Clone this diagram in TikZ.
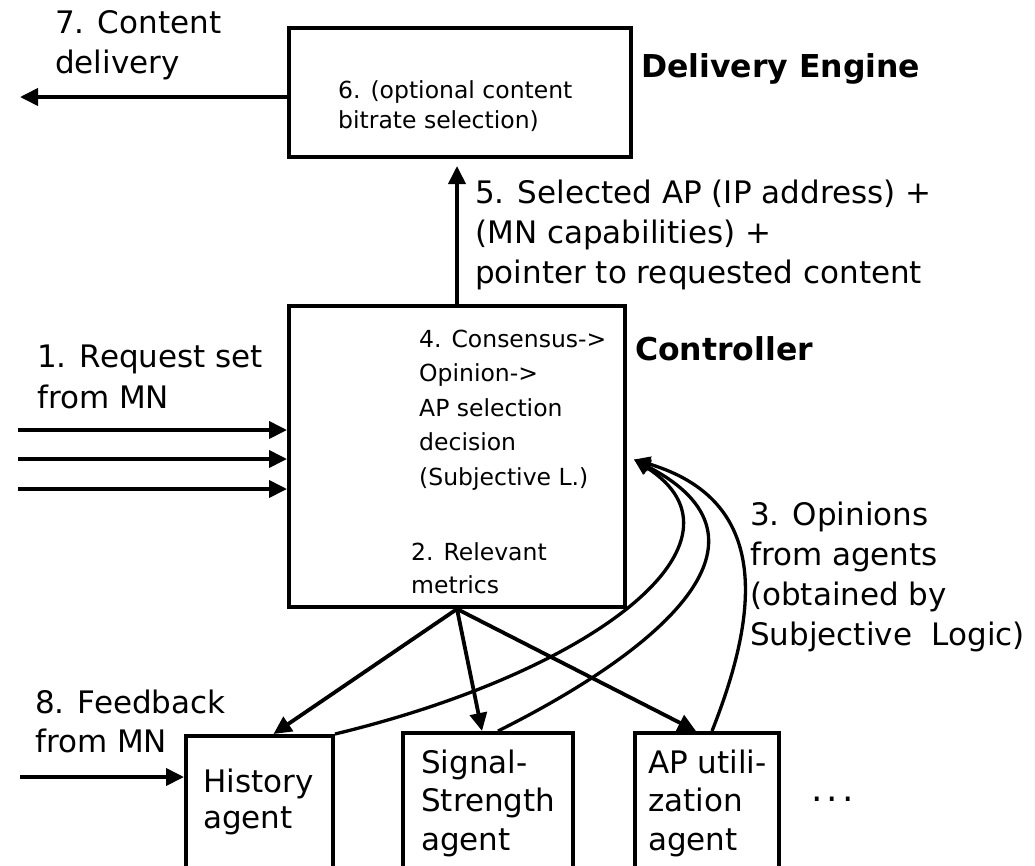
\documentclass[tikz,border=0pt]{standalone}
\usepackage{fontspec}
\setmainfont{DejaVu Sans}
\usetikzlibrary{arrows.meta}
\newcommand\fls{\rule{0pt}{0.8em}}
\begin{document}
\begin{tikzpicture}[x=1pt,y=-1pt,
  box/.style={draw, line width=4pt, inner sep=0pt, rectangle},
  arr/.style={line width=3.8pt, -{Triangle[length=18pt,width=17pt]}},
  carr/.style={line width=3.3pt, -{Triangle[length=16pt,width=15pt]}},
  big/.style={font=\fontsize{31}{40}\selectfont, align=left, inner sep=0pt, anchor=north west},
  small/.style={font=\fontsize{23.5}{34.5}\selectfont, align=left, inner sep=0pt, anchor=north west},
  boldlab/.style={font=\fontsize{31.5}{40}\selectfont\bfseries, inner sep=0pt, anchor=base west}]
\path[use as bounding box] (0,0) rectangle (1035,865);
\clip (0,0) rectangle (1035,865);

% boxes
\node[box, minimum width=342pt, minimum height=129pt] (de) at (460,92.5) {};
\node[box, minimum width=336pt, minimum height=301pt] (ctrl) at (457,456.5) {};
\node[box, minimum width=147pt, minimum height=164pt] (hist) at (259.5,818) {};
\node[box, minimum width=170pt, minimum height=167pt] (sig) at (488,816.5) {};
\node[box, minimum width=144pt, minimum height=167pt] (ap) at (707,816.5) {};

% texts
\node[small, font=\fontsize{23.5}{30}\selectfont] (t6) at (338,79) {\fls 6. (optional content\\bitrate selection)};
\node[boldlab] (tde) at (641,77) {Delivery Engine};
\node[big] (t7) at (55,8) {\fls 7. Content\\delivery};
\node[big] (t5) at (475,178) {\fls 5. Selected AP (IP address) +\\(MN capabilities) +\\pointer to requested content};
\node[boldlab] (tctrl) at (635,360) {Controller};
\node[small] (t4) at (419,328) {\fls 4. Consensus->\\Opinion->\\AP selection\\decision\\(Subjective L.)};
\node[small, font=\fontsize{23.5}{33}\selectfont] (t2) at (411,541) {\fls 2. Relevant\\metrics};
\node[big, font=\fontsize{31}{41}\selectfont] (t1) at (37,342) {\fls 1. Request set\\from MN};
\node[big] (t3) at (750,500) {\fls 3. Opinions\\from agents\\(obtained by\\Subjective\ \ Logic)};
\node[big, font=\fontsize{31}{39}\selectfont] (t8) at (35,688) {\fls 8. Feedback\\from MN};
\node[big, font=\fontsize{31}{36}\selectfont] (th) at (203,767) {\fls History\\agent};
\node[big, font=\fontsize{31}{38.5}\selectfont] (ts) at (421,748) {\fls Signal-\\Strength\\agent};
\node[big, font=\fontsize{31}{38.5}\selectfont] (ta) at (648,748) {\fls AP utili-\\zation\\agent};
\node[inner sep=0pt, anchor=base west, font=\fontsize{36}{40}\selectfont] (dots) at (811,801) {.\hspace{4.3pt}.\hspace{4.3pt}.};

% free ends
\coordinate (o7) at (20,97);
\coordinate (r1) at (18,430);
\coordinate (r2) at (18,459);
\coordinate (r3) at (18,489);
\coordinate (fb) at (20,777);
\coordinate (cin) at ([xshift=7pt,yshift=-3pt]ctrl.east);

% connectors
\draw[arr] (de.west |- o7) -- (o7);
\draw[arr, shorten >=7pt] (ctrl.north) -- (ctrl.north |- de.south);
\draw[arr] (r1) -- (ctrl.west |- r1);
\draw[arr] (r2) -- (ctrl.west |- r2);
\draw[arr] (r3) -- (ctrl.west |- r3);
\draw[arr] (fb) -- (hist.west |- fb);
\draw[arr] (ctrl.south) -- ([xshift=14pt]hist.north);
\draw[arr] (ctrl.south) -- ([xshift=-6pt]sig.north);
\draw[arr] (ctrl.south) -- ([xshift=-11pt]ap.north);

\draw[carr] (hist.north east) .. controls (600,670) and (760,540) .. (cin);
\draw[carr] ([xshift=10pt]sig.north) .. controls (660,650) and (790,540) .. (cin);
\draw[carr] ([xshift=5pt]ap.north) .. controls (760,610) and (770,500) .. (cin);
\end{tikzpicture}
\end{document}
